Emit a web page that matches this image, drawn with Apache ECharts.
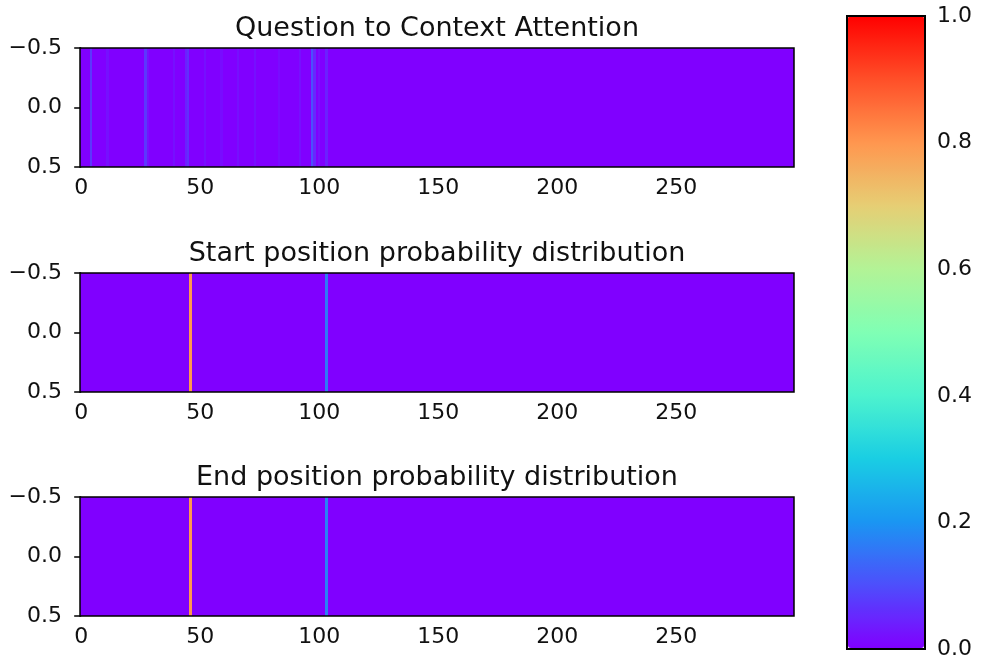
<!DOCTYPE html>
<html>
<head>
<meta charset="utf-8">
<title>Attention and answer span distributions</title>
<script src="https://cdn.jsdelivr.net/npm/echarts@6/dist/echarts.min.js"></script>
<style>
  html, body { margin: 0; padding: 0; background: #fff; }
  #chart { width: 982px; height: 662px; }
</style>
</head>
<body>
<div id="chart"></div>
<script>
// Number of context token positions shown on each strip
const contextLen = 300;

// Question-to-context attention: positions with visible weight [position, weight]
const attentionPeaks = [
  [4, 0.07], [11, 0.02], [27, 0.07], [28, 0.02], [39, 0.02], [44, 0.04], [45, 0.06],
  [52, 0.02], [59, 0.015], [66, 0.02], [73, 0.02], [83, 0.015], [92, 0.02],
  [97, 0.1], [98, 0.05], [100, 0.02], [103, 0.04]
];

// Start / end position probabilities [position, probability]
const startPeaks = [[46, 0.8], [103, 0.16]];
const endPeaks = [[46, 0.8], [103, 0.17]];

// Panel titles
const panelTitles = [
  'Question to Context Attention',
  'Start position probability distribution',
  'End position probability distribution'
];

// Tick labels
const xTicks = [0, 50, 100, 150, 200, 250];

// Matplotlib "rainbow" colormap sampled at 0, 0.1, ..., 1.0
const rainbowStops = [
  '#8000ff', '#4d4ffc', '#1a96f2', '#1acee3', '#4df3ce', '#80ffb4',
  '#b3f396', '#e6ce74', '#ff964f', '#ff4f28', '#ff0000'
];

function buildRow(peaks) {
  const row = [];
  for (let i = 0; i < contextLen; i++) row.push([i, 0]);
  peaks.forEach(([i, v]) => { row[i][1] = v; });
  return row;
}

const rows = [buildRow(attentionPeaks), buildRow(startPeaks), buildRow(endPeaks)];

const font = 'DejaVu Sans';
const textColor = '#111';
const tickFont = 22;
const panelLeft = 80, panelWidth = 714, panelHeight = 119;
const panelTops = [48, 273, 497];

function minusFmt(v) {
  return (v < 0 ? '\u2212' : '') + Math.abs(v).toFixed(1);
}

const grids = panelTops.map(t => ({
  left: panelLeft, top: t, width: panelWidth, height: panelHeight,
  show: true, borderColor: '#000', borderWidth: 1.5, backgroundColor: 'transparent', z: 10
}));
// Grid that carries the colorbar's axis and frame
grids.push({
  left: 847, top: 16, width: 78, height: 633,
  show: true, borderColor: '#000', borderWidth: 2, backgroundColor: 'transparent', z: 10
});

const xAxes = panelTops.map((t, k) => ({
  type: 'value', gridIndex: k, min: -0.5, max: contextLen - 0.5,
  axisLine: { show: false },
  splitLine: { show: false },
  axisTick: { show: true, customValues: xTicks, length: 7, inside: false,
              lineStyle: { color: '#000', width: 1.5 } },
  axisLabel: { show: true, customValues: xTicks, margin: 10,
               fontFamily: font, fontSize: tickFont, color: textColor,
               formatter: v => String(Math.round(v)) }
}));
xAxes.push({ type: 'value', gridIndex: 3, min: 0, max: 1, show: false });

const yAxes = panelTops.map((t, k) => ({
  type: 'value', gridIndex: k, min: -0.5, max: 0.5, interval: 0.5, inverse: true,
  axisLine: { show: false },
  splitLine: { show: false },
  axisTick: { show: true, length: 7, inside: false, lineStyle: { color: '#000', width: 1.5 } },
  axisLabel: { show: true, margin: 18, fontFamily: font, fontSize: tickFont, color: textColor,
               formatter: minusFmt }
}));
yAxes.push({
  type: 'value', gridIndex: 3, position: 'right', min: 0, max: 1, interval: 0.2,
  axisLine: { show: false },
  splitLine: { show: false },
  axisTick: { show: true, length: 7, inside: false, lineStyle: { color: '#000', width: 1.5 } },
  axisLabel: { show: true, margin: 12, fontFamily: font, fontSize: tickFont, color: textColor,
               formatter: v => v.toFixed(1) }
});

// One cell per context position, snapped to whole pixels so neighbours meet without seams
function renderCell(params, api) {
  const i = api.value(0);
  const p0 = api.coord([i - 0.5, -0.5]);
  const p1 = api.coord([i + 0.5, 0.5]);
  const x0 = Math.round(Math.min(p0[0], p1[0]));
  const x1 = Math.round(Math.max(p0[0], p1[0]));
  const y0 = Math.round(Math.min(p0[1], p1[1]));
  const y1 = Math.round(Math.max(p0[1], p1[1]));
  return {
    type: 'rect',
    shape: { x: x0, y: y0, width: x1 - x0, height: y1 - y0 },
    style: { fill: api.visual('color') }
  };
}

const series = rows.map((row, k) => ({
  type: 'custom',
  xAxisIndex: k, yAxisIndex: k,
  renderItem: renderCell,
  encode: { x: 0 },
  data: row,
  silent: true
}));

const option = {
  animation: false,
  backgroundColor: '#fff',
  title: panelTitles.map((txt, k) => ({
    text: txt,
    left: panelLeft + panelWidth / 2,
    top: panelTops[k] - 33,
    textAlign: 'center',
    padding: 0,
    textStyle: { fontFamily: font, fontSize: 27, fontWeight: 'normal', color: textColor }
  })),
  grid: grids,
  xAxis: xAxes,
  yAxis: yAxes,
  visualMap: {
    type: 'continuous',
    min: 0, max: 1,
    dimension: 1,
    seriesIndex: [0, 1, 2],
    calculable: false,
    realtime: false,
    hoverLink: false,
    left: 848, top: 16,
    itemWidth: 76, itemHeight: 632,
    padding: 0,
    text: null,
    showLabel: false,
    inRange: { color: rainbowStops }
  },
  series: series
};

const chart = echarts.init(document.getElementById('chart'), null, { renderer: 'canvas' });
chart.setOption(option);
</script>
</body>
</html>
